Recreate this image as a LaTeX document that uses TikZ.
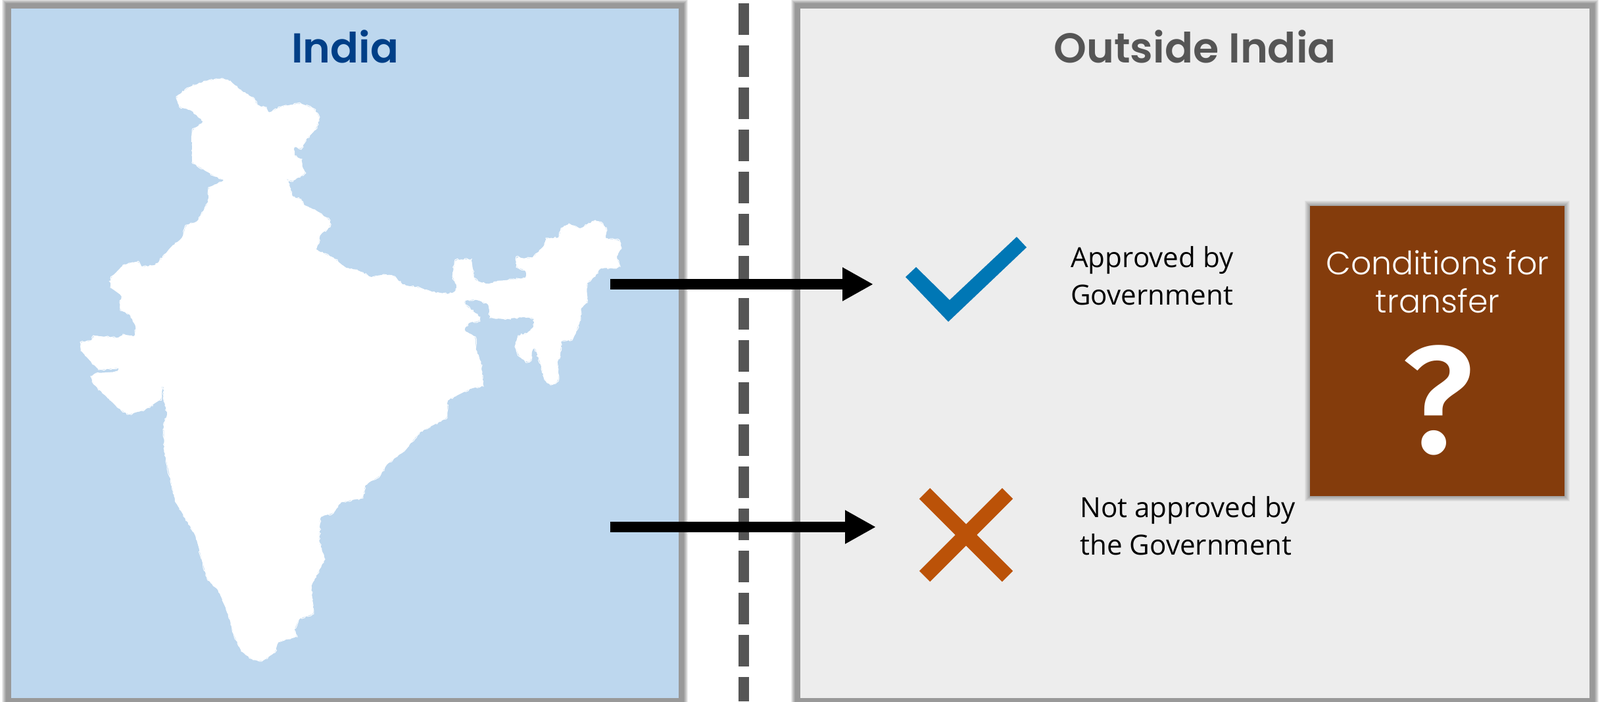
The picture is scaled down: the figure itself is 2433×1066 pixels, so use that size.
\documentclass[tikz,border=0pt]{standalone}
\usepackage{fontspec}
\setmainfont{Open Sans}
\newfontfamily\titlefont{Poppins SemiBold}
\newfontfamily\thinfont{Poppins Light}
\newfontfamily\markfont{Fira Sans Medium}
\definecolor{indiablue}{HTML}{BDD7EE}
\definecolor{indiatitle}{HTML}{003F87}
\definecolor{outsidegray}{HTML}{EDEDED}
\definecolor{darkgray}{HTML}{555555}
\definecolor{okblue}{HTML}{0077B5}
\definecolor{noorange}{HTML}{BB5208}
\definecolor{boxbrown}{HTML}{843C0C}
\usetikzlibrary{arrows.meta,decorations.pathmorphing}
\tikzset{
	panelshade/.style={fill=black,opacity=0.07},
	boxshade/.style={fill=black,opacity=0.045},
	bigarrow/.style={line width=16pt,-{Triangle[length=47pt,width=48pt]}},
	smalltext/.style={anchor=base west,align=left,inner sep=0pt,font=\fontsize{42.2}{57}\selectfont},
	paneltitle/.style={anchor=base,font=\fontsize{63.5}{70}\titlefont},
	boxtext/.style={anchor=base,text=white,font=\fontsize{49}{58}\thinfont},
	rough/.style={white,line width=1pt,decorate,decoration={random steps,segment length=3pt,amplitude=1.6pt}},
	country/.style={rounded corners=4pt}
}
\newcommand{\indiapath}{(268,147) -- (287,133) -- (313,123) -- (337,119) -- (350,123) -- (367,138)
		-- (387,150) -- (391,161) -- (405,163) -- (408,172) -- (428,162) -- (457,157) -- (477,165) -- (486,178)
		-- (480,197) -- (465,212) -- (458,227) -- (447,222) -- (447,237) -- (459,242) -- (459,253) -- (465,263)
		-- (443,276) -- (435,270) -- (440,280) -- (444,299) -- (458,303) -- (462,312) -- (480,320) -- (502,335)
		-- (502,345) -- (486,357) -- (485,370) -- (479,379) -- (507,392) -- (527,408) -- (543,410) -- (565,422)
		-- (583,417) -- (600,420) -- (612,433) -- (640,438) -- (657,444) -- (683,447) -- (693,443) -- (695,435)
		-- (688,420) -- (692,395) -- (717,394) -- (719,410) -- (720,423) -- (727,428) -- (743,432) -- (757,427)
		-- (800,423) -- (800,411) -- (785,406) -- (785,390) -- (795,393) -- (810,392) -- (828,373) -- (830,362)
		-- (850,362) -- (853,347) -- (865,340) -- (882,348) -- (892,342) -- (905,335) -- (917,340) -- (923,350)
		-- (920,363) -- (942,365) -- (945,377) -- (937,390) -- (943,405) -- (937,408) -- (913,407) -- (905,420)
		-- (892,430) -- (893,460) -- (883,468) -- (883,483) -- (875,507) -- (870,517) -- (853,517) -- (852,542)
		-- (847,550) -- (850,575) -- (845,583) -- (837,585) -- (828,577) -- (822,553) -- (813,527) -- (808,535)
		-- (808,548) -- (802,551) -- (790,542) -- (783,527) -- (788,510) -- (802,507) -- (812,497) -- (812,483)
		-- (793,482) -- (767,485) -- (745,483) -- (743,462) -- (723,455) -- (705,457) -- (707,463) -- (730,482)
		-- (730,488) -- (713,490) -- (705,502) -- (723,512) -- (723,530) -- (731,550) -- (735,587) -- (717,590)
		-- (693,602) -- (680,608) -- (680,635) -- (638,657) -- (617,683) -- (587,707) -- (578,723) -- (555,737)
		-- (552,757) -- (518,763) -- (507,780) -- (487,785) -- (485,823) -- (494,850) -- (473,890) -- (477,933)
		-- (455,940) -- (447,958) -- (452,968) -- (423,975) -- (418,992) -- (398,1005) -- (385,1003) -- (367,990)
		-- (355,963) -- (347,933) -- (332,897) -- (315,880) -- (297,813) -- (267,763) -- (250,687) -- (249,643)
		-- (255,630) -- (249,608) -- (249,585) -- (246,585) -- (246,606) -- (220,623) -- (195,630) -- (180,620)
		-- (167,608) -- (142,583) -- (138,572) -- (147,567) -- (180,565) -- (182,559) -- (150,562) -- (123,533)
		-- (122,520) -- (140,518) -- (142,510) -- (180,514) -- (187,508) -- (205,512) -- (207,497) -- (197,477)
		-- (183,472) -- (182,460) -- (186,450) -- (168,437) -- (168,423) -- (187,403) -- (210,397) -- (215,406)
		-- (237,403) -- (263,373) -- (277,362) -- (283,342) -- (300,337) -- (317,307) -- (317,285) -- (342,274)
		-- (327,268) -- (292,247) -- (292,198) -- (310,185) -- (290,167) -- (273,163) -- cycle}
\begin{document}
\begin{tikzpicture}[x=1pt,y=-1pt]
	\clip (0,0) rectangle (2433,1066);
	% soft edges of the two panels
	\foreach \s in {8,...,14} {
		\fill [panelshade] (17-\s,13-\s) rectangle (1032+\s,1061+\s);
		\fill [panelshade] (1217-\s,13-\s) rectangle (2417+\s,1061+\s);
	}
	\fill [indiablue] (17,13) rectangle (1032,1061);
	\fill [outsidegray] (1217,13) rectangle (2417,1061);
	\node (indiatitle) [paneltitle,text=indiatitle] at (525,95) {India};
	\node (outsidetitle) [paneltitle,text=darkgray] at (1817,95) {Outside India};
	% the country
	\fill [white,country] \indiapath;
	\draw [rough] \indiapath; % Frayed outline
	% border between the two
	\draw [darkgray,line width=16pt,dash pattern=on 48pt off 16pt] (1130.5,5) -- (1130.5,1066);
	% tick and cross
	\fill [okblue] (1546,360) -- (1561,376) -- (1442,489) -- (1377,421) -- (1393,406) -- (1444,456) -- cycle;
	\draw [noorange,line width=23pt] (1406,750) -- (1532,876);
	\draw [noorange,line width=23pt] (1532,750) -- (1406,876);
	\coordinate (okfrom) at (928,432);
	\coordinate (okto) at (1328,432);
	\coordinate (nofrom) at (928,801);
	\coordinate (noto) at (1332,801);
	\draw [bigarrow] (okfrom) -- (okto);
	\draw [bigarrow] (nofrom) -- (noto);
	\node (oktext) [smalltext] at (1628,463) {Approved by\\Government};
	\node (notext) [smalltext] at (1642,843) {Not approved by\\the Government};
	% conditions box
	\foreach \s in {1,...,8} {
		\fill [boxshade] (1992-\s,313-\s) rectangle (2379+\s,754+\s);
	}
	\fill [boxbrown] (1992,313) rectangle (2379,754);
	\node (boxline1) [boxtext] at (2186,417) {Conditions for};
	\node (boxline2) [boxtext] at (2186,475) {transfer};
	\node (boxmark) [anchor=base,text=white,font=\fontsize{232}{240}\markfont] at (2186,688) {?};
\end{tikzpicture}
\end{document}
